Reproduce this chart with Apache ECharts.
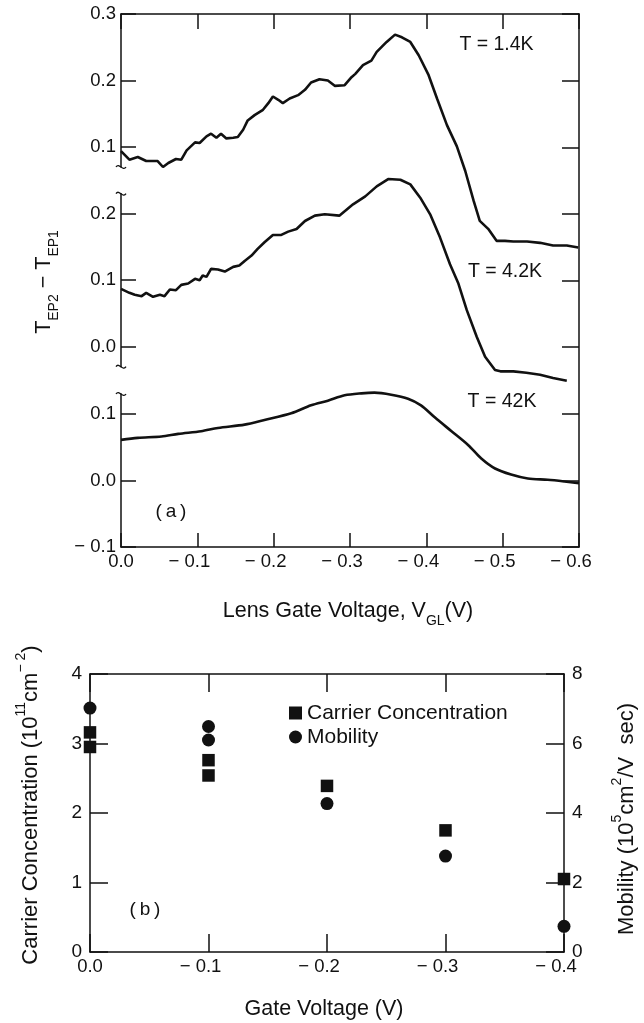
<!DOCTYPE html>
<html><head><meta charset="utf-8">
<script src="https://cdn.jsdelivr.net/npm/echarts@6/dist/echarts.min.js"></script>
<style>html,body{margin:0;padding:0;background:#fff}#c{width:644px;height:1023px}</style>
</head><body><div id="c"></div>
<script>
// ---------- Panel (a) data: lens gate voltage (V) and T_EP2 - T_EP1 ----------
const volt_1p4K = [0.000,-0.011,-0.022,-0.033,-0.048,-0.055,-0.062,-0.072,-0.079,-0.086,-0.097,-0.103,-0.112,-0.118,-0.125,-0.131,-0.138,-0.147,-0.153,-0.160,-0.166,-0.175,-0.186,-0.193,-0.199,-0.206,-0.212,-0.221,-0.232,-0.241,-0.249,-0.260,-0.271,-0.280,-0.293,-0.302,-0.307,-0.317,-0.328,-0.335,-0.348,-0.359,-0.368,-0.379,-0.390,-0.403,-0.414,-0.427,-0.440,-0.451,-0.462,-0.470,-0.481,-0.492,-0.503,-0.514,-0.532,-0.549,-0.566,-0.584,-0.599];
const tep_1p4K  = [0.094,0.081,0.085,0.079,0.079,0.070,0.076,0.082,0.081,0.095,0.107,0.106,0.116,0.120,0.114,0.120,0.113,0.114,0.115,0.126,0.140,0.148,0.156,0.166,0.176,0.171,0.166,0.173,0.178,0.186,0.197,0.202,0.200,0.192,0.193,0.205,0.210,0.223,0.230,0.243,0.258,0.269,0.265,0.258,0.238,0.208,0.173,0.133,0.101,0.064,0.019,-0.011,-0.023,-0.041,-0.041,-0.042,-0.042,-0.044,-0.048,-0.048,-0.051];

const volt_4p2K = [0.000,-0.011,-0.018,-0.027,-0.033,-0.042,-0.051,-0.057,-0.064,-0.072,-0.079,-0.088,-0.097,-0.103,-0.107,-0.112,-0.118,-0.127,-0.136,-0.147,-0.155,-0.162,-0.171,-0.179,-0.188,-0.199,-0.210,-0.219,-0.230,-0.241,-0.254,-0.267,-0.286,-0.304,-0.320,-0.335,-0.350,-0.366,-0.379,-0.392,-0.405,-0.418,-0.431,-0.442,-0.453,-0.466,-0.477,-0.490,-0.497,-0.514,-0.531,-0.549,-0.566,-0.584];
const tep_4p2K  = [0.087,0.081,0.078,0.076,0.081,0.075,0.078,0.076,0.086,0.085,0.093,0.095,0.102,0.100,0.107,0.105,0.117,0.116,0.113,0.120,0.122,0.129,0.137,0.147,0.157,0.168,0.168,0.173,0.177,0.189,0.197,0.199,0.197,0.214,0.226,0.241,0.252,0.251,0.244,0.224,0.199,0.164,0.124,0.095,0.055,0.015,-0.015,-0.035,-0.037,-0.037,-0.039,-0.042,-0.047,-0.051];

const volt_42K = [0.000,-0.022,-0.053,-0.075,-0.105,-0.127,-0.162,-0.188,-0.223,-0.249,-0.271,-0.293,-0.315,-0.332,-0.354,-0.376,-0.393,-0.411,-0.433,-0.455,-0.472,-0.490,-0.511,-0.533,-0.559,-0.581,-0.600];
const tep_42K  = [0.061,0.064,0.066,0.070,0.074,0.079,0.084,0.091,0.101,0.113,0.120,0.128,0.131,0.132,0.129,0.123,0.113,0.095,0.074,0.053,0.033,0.018,0.009,0.003,0.001,-0.0015,-0.004];

// y tick values shown on each stacked strip of panel (a)
const ticks_1p4K = [0.1, 0.2, 0.3];
const ticks_4p2K = [0.0, 0.1, 0.2];
const ticks_42K  = [-0.1, 0.0, 0.1];

// ---------- Panel (b) data ----------
const carrierGate = [0, 0, -0.1, -0.1, -0.2, -0.3, -0.4];
const carrierConc = [3.16, 2.95, 2.76, 2.54, 2.39, 1.75, 1.05];
const mobilityGate = [0, -0.1, -0.1, -0.2, -0.3, -0.4];
const mobilityVal  = [7.02, 6.49, 6.10, 4.27, 2.76, 0.74];

// ---------- helpers ----------
const zip = (a, b) => a.map((v, i) => [v, b[i]]);
const FONT = 'Liberation Sans, Arial, Helvetica, sans-serif';
const INK = '#111';
const TICK_FS = 18.5;
function numLabel(v) {
  if (Math.abs(v) < 1e-9) return '0.0';
  return v < 0 ? '\u2212 ' + (-v).toFixed(1) : v.toFixed(1);
}
function xLabel(v) {
  if (Math.abs(v) < 1e-9) return '0.0';
  return '\u2212 ' + Math.abs(v).toFixed(1) + '{p|\u2212 }';
}
const xRich = { p: { color: 'rgba(0,0,0,0)', fontSize: TICK_FS, fontFamily: FONT } };
const axLine = { show: true, onZero: false, lineStyle: { color: INK, width: 1.5 } };
const noSplit = { show: false };

const LA = 121, RA = 644 - 579;
const chart = echarts.init(document.getElementById('c'), null, { renderer: 'canvas' });

function subY(grid, min, max, ticks) {
  return {
    type: 'value', gridIndex: grid, position: 'left', min: min, max: max,
    axisLine: axLine, splitLine: noSplit,
    axisTick: { show: true, inside: true, length: 15, lineStyle: { color: INK, width: 1.5 }, customValues: ticks },
    axisLabel: { show: true, margin: 5, color: INK, fontSize: TICK_FS, fontFamily: FONT, formatter: numLabel, customValues: ticks }
  };
}
function hiddenX(grid) {
  return { type: 'value', gridIndex: grid, min: -0.6, max: 0, inverse: true, show: false };
}

const mainTok = { fontSize: 21.5, fontFamily: FONT, fill: INK, lineHeight: 28, verticalAlign: 'top' };
const mainTokB = { fontSize: 22, fontFamily: FONT, fill: INK, lineHeight: 28, verticalAlign: 'bottom' };
const subTok = { fontSize: 14, fontFamily: FONT, fill: INK, lineHeight: 13, verticalAlign: 'bottom' };
const supTok = { fontSize: 14, fontFamily: FONT, fill: INK, lineHeight: 13, verticalAlign: 'top' };

function label(x, y, text, size) {
  return { type: 'text', x: x, y: y, silent: true,
    style: { text: text, fill: INK, fontSize: size, fontFamily: FONT, align: 'center', verticalAlign: 'middle' } };
}
function breakMark(y) {
  return { type: 'bezierCurve', silent: true,
    shape: { x1: LA - 5, y1: y, x2: LA + 5, y2: y, cpx1: LA - 2, cpy1: y - 5, cpx2: LA + 2, cpy2: y + 5 },
    style: { stroke: INK, lineWidth: 1.3, fill: null } };
}

const option = {
  backgroundColor: '#fff',
  animation: false,
  grid: [
    { left: LA, right: RA, top: 14, height: 533 },        // 0 frame of panel (a)
    { left: LA, right: RA, top: 14, height: 153 },        // 1 T = 1.4K strip
    { left: LA, right: RA, top: 193.7, height: 173 },     // 2 T = 4.2K strip
    { left: LA, right: RA, top: 394, height: 153 },       // 3 T = 42K strip
    { left: 90, right: 80, top: 674, height: 278 }        // 4 panel (b)
  ],
  xAxis: [
    { type: 'value', gridIndex: 0, position: 'top', min: -0.6, max: 0, inverse: true, interval: 0.1,
      axisLine: axLine, splitLine: noSplit, axisLabel: { show: false },
      axisTick: { show: true, inside: true, length: 15, lineStyle: { color: INK, width: 1.5 } } },
    hiddenX(1), hiddenX(2),
    { type: 'value', gridIndex: 3, position: 'bottom', min: -0.6, max: 0, inverse: true, interval: 0.1,
      axisLine: axLine, splitLine: noSplit,
      axisTick: { show: true, inside: true, length: 14, lineStyle: { color: INK, width: 1.5 } },
      axisLabel: { show: true, margin: 5, color: INK, fontSize: TICK_FS, fontFamily: FONT, formatter: xLabel, rich: xRich } },
    { type: 'value', gridIndex: 4, position: 'bottom', min: -0.4, max: 0, inverse: true, interval: 0.1,
      axisLine: axLine, splitLine: noSplit,
      axisTick: { show: true, inside: true, length: 18, lineStyle: { color: INK, width: 1.5 } },
      axisLabel: { show: true, margin: 5, color: INK, fontSize: TICK_FS, fontFamily: FONT, formatter: xLabel, rich: xRich } },
    { type: 'value', gridIndex: 4, position: 'top', min: -0.4, max: 0, inverse: true, interval: 0.1,
      axisLine: axLine, splitLine: noSplit, axisLabel: { show: false },
      axisTick: { show: true, inside: true, length: 18, lineStyle: { color: INK, width: 1.5 } } }
  ],
  yAxis: [
    { type: 'value', gridIndex: 0, position: 'right', min: -0.1, max: 0.7, interval: 0.1,
      axisLine: axLine, splitLine: noSplit, axisLabel: { show: false },
      axisTick: { show: true, inside: true, length: 17, lineStyle: { color: INK, width: 1.5 } } },
    subY(1, 0.07, 0.3, ticks_1p4K),
    subY(2, -0.03, 0.23, ticks_4p2K),
    subY(3, -0.1, 0.13, ticks_42K),
    { type: 'value', gridIndex: 4, position: 'left', min: 0, max: 4, interval: 1,
      axisLine: axLine, splitLine: noSplit,
      axisTick: { show: true, inside: true, length: 18, lineStyle: { color: INK, width: 1.5 } },
      axisLabel: { show: true, margin: 8, color: INK, fontSize: TICK_FS + 0.5, fontFamily: FONT } },
    { type: 'value', gridIndex: 4, position: 'right', min: 0, max: 8, interval: 2,
      axisLine: axLine, splitLine: noSplit,
      axisTick: { show: true, inside: true, length: 18, lineStyle: { color: INK, width: 1.5 } },
      axisLabel: { show: true, margin: 8, color: INK, fontSize: TICK_FS + 0.5, fontFamily: FONT } }
  ],
  legend: {
    orient: 'vertical', left: 289, top: 702.5, padding: 0, itemWidth: 13, itemHeight: 13, itemGap: 3,
    textStyle: { color: INK, fontSize: 21, fontFamily: FONT },
    data: [{ name: 'Carrier Concentration', icon: 'rect' }, { name: 'Mobility', icon: 'circle' }]
  },
  series: [
    { name: 'T = 1.4K', type: 'line', xAxisIndex: 1, yAxisIndex: 1, data: zip(volt_1p4K, tep_1p4K),
      showSymbol: false, clip: false, lineStyle: { color: INK, width: 2.6 }, itemStyle: { color: INK } },
    { name: 'T = 4.2K', type: 'line', xAxisIndex: 2, yAxisIndex: 2, data: zip(volt_4p2K, tep_4p2K),
      showSymbol: false, clip: false, lineStyle: { color: INK, width: 2.6 }, itemStyle: { color: INK } },
    { name: 'T = 42K', type: 'line', xAxisIndex: 3, yAxisIndex: 3, data: zip(volt_42K, tep_42K),
      showSymbol: false, clip: false, smooth: 0.3, lineStyle: { color: INK, width: 2.6 }, itemStyle: { color: INK } },
    { name: 'Carrier Concentration', type: 'scatter', xAxisIndex: 4, yAxisIndex: 4,
      data: zip(carrierGate, carrierConc), symbol: 'rect', symbolSize: 12.5, clip: false, itemStyle: { color: INK, opacity: 1 } },
    { name: 'Mobility', type: 'scatter', xAxisIndex: 4, yAxisIndex: 5,
      data: zip(mobilityGate, mobilityVal), symbol: 'circle', symbolSize: 13, clip: false, itemStyle: { color: INK, opacity: 1 } }
  ],
  graphic: [
    label(496.5, 45, 'T = 1.4K', 19.5),
    label(505, 272, 'T = 4.2K', 19.5),
    label(502, 402, 'T = 42K', 19.5),
    label(171, 512, '(\u2009a\u2009)', 19),
    label(145, 910, '(\u2009b\u2009)', 19),
    { type: 'text', x: 47, y: 282, rotation: Math.PI / 2, silent: true,
      style: { text: '{m|T}{s|EP2}{m| \u2212 T}{s|EP1}', align: 'center', verticalAlign: 'middle',
        rich: { m: mainTok, s: subTok } } },
    { type: 'text', x: 348, y: 614, silent: true,
      style: { text: '{m|Lens Gate Voltage, V}{s|GL}{m|(V)}', align: 'center', verticalAlign: 'middle',
        rich: { m: mainTok, s: subTok } } },
    { type: 'text', x: 28, y: 805, rotation: Math.PI / 2, silent: true,
      style: { text: '{m|Carrier Concentration (10}{u|11}{m|cm}{u|\u2212 2}{m|)}', align: 'center', verticalAlign: 'middle',
        rich: { m: mainTokB, u: supTok } } },
    { type: 'text', x: 624, y: 819, rotation: Math.PI / 2, silent: true,
      style: { text: '{m|Mobility (10}{u|5}{m|cm}{u|2}{m|/V  sec)}', align: 'center', verticalAlign: 'middle',
        rich: { m: mainTokB, u: supTok } } },
    label(324, 1009, 'Gate Voltage (V)', 21.5),
    breakMark(167), breakMark(193.7), breakMark(366.7), breakMark(394)
  ]
};
chart.setOption(option);
</script>
</body></html>
